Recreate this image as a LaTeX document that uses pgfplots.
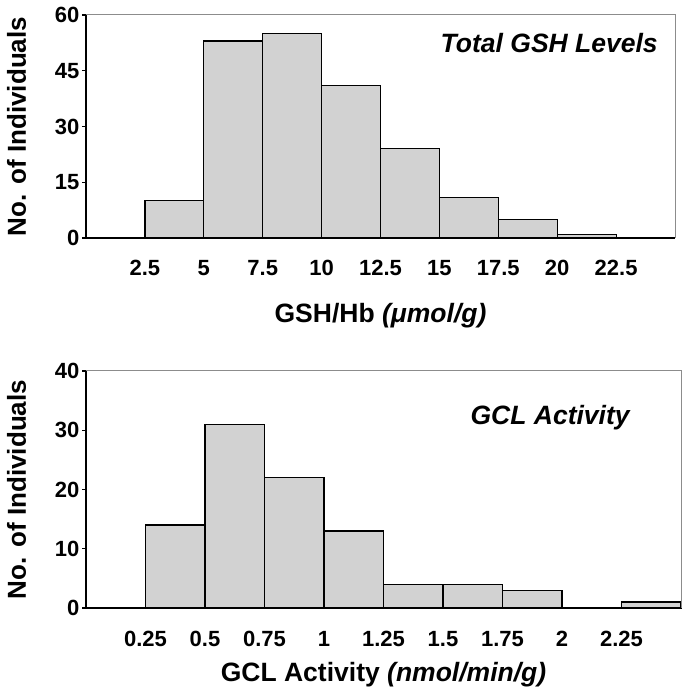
\documentclass[border=0pt]{standalone}
\usepackage{pgfplots}
\pgfplotsset{compat=1.18}
\usepackage{fontspec}
\setmainfont{Liberation Sans}
\definecolor{barfill}{RGB}{210,210,210}
\definecolor{framegray}{RGB}{140,140,140}
\pgfplotsset{
  hist/.style={
    scale only axis,
    anchor=south west,
    axis x line*=bottom,
    axis y line*=left,
    axis line style={-, line width=1.4pt, black},
    tick label style={font=\fontsize{22}{26}\selectfont\bfseries},
    xtick style={draw=none},
    ytick style={line width=1.2pt, black},
    tick align=outside,
    major tick length=4pt,
    xticklabel style={anchor=base, yshift=-34pt},
    yticklabel style={anchor=east, xshift=1pt},
    every axis x label/.style={anchor=base, font=\fontsize{26.5}{30}\selectfont\bfseries},
    every axis y label/.style={anchor=base, rotate=90, font=\fontsize{26}{30}\selectfont\bfseries},
    clip=false,
  },
  barstyle/.style={ybar interval, fill=barfill, draw=black, line width=1.2pt},
}
\begin{document}
\begin{tikzpicture}
\useasboundingbox (0,0) rectangle (687pt,693pt);
% Top histogram
\begin{axis}[hist,
  at={(86pt,455pt)}, width=589pt, height=223pt,
  xmin=0, xmax=25, ymin=0, ymax=60,
  xtick={2.5,5,7.5,10,12.5,15,17.5,20,22.5},
  xticklabels={2.5,5,7.5,10,12.5,15,17.5,20,22.5},
  ytick={0,15,30,45,60},
  yticklabels={0,15,30,45,60},
  xlabel={GSH/Hb \textit{(μmol/g)}},
  ylabel={No. of Individuals},
  xlabel style={at={(axis description cs:0.5,-0.377)}},
  ylabel style={at={(axis description cs:-0.102,0.5)}},
]
\addplot[barstyle] coordinates {(2.5,10) (5,53) (7.5,55) (10,41) (12.5,24) (15,11) (17.5,5) (20,1) (22.5,0)};
\draw[framegray, line width=1pt] (rel axis cs:0,1) -- (rel axis cs:1,1) -- (rel axis cs:1,0);
\node[anchor=north east, inner sep=0pt, font=\fontsize{26.5}{30}\selectfont\bfseries\itshape] at (rel axis cs:0.971,0.919) {Total GSH Levels};
\end{axis}
% Bottom histogram
\begin{axis}[hist,
  at={(86pt,85pt)}, width=595pt, height=237pt,
  xmin=0, xmax=2.5, ymin=0, ymax=40,
  xtick={0.25,0.5,0.75,1,1.25,1.5,1.75,2,2.25},
  xticklabels={0.25,0.5,0.75,1,1.25,1.5,1.75,2,2.25},
  ytick={0,10,20,30,40},
  yticklabels={0,10,20,30,40},
  xlabel={GCL Activity \textit{(nmol/min/g)}},
  ylabel={No. of Individuals},
  xlabel style={at={(axis description cs:0.5,-0.312)}},
  ylabel style={at={(axis description cs:-0.101,0.5)}},
]
\addplot[barstyle] coordinates {(0.25,14) (0.5,31) (0.75,22) (1,13) (1.25,4) (1.5,4) (1.75,3) (2,0) (2.25,1) (2.5,0)};
\draw[framegray, line width=1pt] (rel axis cs:0,1) -- (rel axis cs:1,1) -- (rel axis cs:1,0);
\node[anchor=north east, inner sep=0pt, font=\fontsize{26.5}{30}\selectfont\bfseries\itshape] at (rel axis cs:0.914,0.857) {GCL Activity};
\end{axis}
\end{tikzpicture}
\end{document}
